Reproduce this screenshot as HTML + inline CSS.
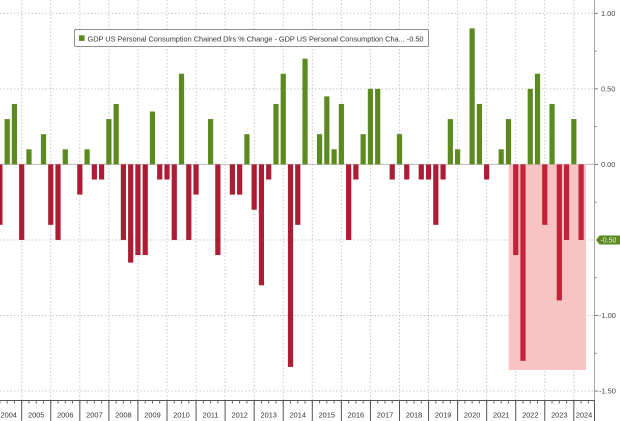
<!DOCTYPE html>
<html><head><meta charset="utf-8"><style>
html,body{margin:0;padding:0;background:#fff;}
svg{display:block;font-family:"Liberation Sans",sans-serif;}
</style></head><body>
<svg width="620" height="421" viewBox="0 0 620 421" xmlns="http://www.w3.org/2000/svg">
<rect x="0" y="0" width="620" height="421" fill="#fff"/>
<!-- vertical gridlines -->
<g stroke="#c8c8c8" stroke-width="1" stroke-dasharray="1.5,2">
<line x1="21.7" y1="0" x2="21.7" y2="400"/><line x1="50.76" y1="0" x2="50.76" y2="400"/><line x1="79.82" y1="0" x2="79.82" y2="400"/><line x1="108.88" y1="0" x2="108.88" y2="400"/><line x1="137.94" y1="0" x2="137.94" y2="400"/><line x1="167" y1="0" x2="167" y2="400"/><line x1="196.06" y1="0" x2="196.06" y2="400"/><line x1="225.12" y1="0" x2="225.12" y2="400"/><line x1="254.18" y1="0" x2="254.18" y2="400"/><line x1="283.24" y1="0" x2="283.24" y2="400"/><line x1="312.3" y1="0" x2="312.3" y2="400"/><line x1="341.36" y1="0" x2="341.36" y2="400"/><line x1="370.42" y1="0" x2="370.42" y2="400"/><line x1="399.48" y1="0" x2="399.48" y2="400"/><line x1="428.54" y1="0" x2="428.54" y2="400"/><line x1="457.6" y1="0" x2="457.6" y2="400"/><line x1="486.66" y1="0" x2="486.66" y2="400"/><line x1="515.72" y1="0" x2="515.72" y2="400"/><line x1="544.78" y1="0" x2="544.78" y2="400"/><line x1="573.84" y1="0" x2="573.84" y2="400"/>
</g>
<!-- horizontal gridlines -->
<g stroke="#c8c8c8" stroke-width="1" stroke-dasharray="1.5,2">
<line x1="0" y1="13.3" x2="594.5" y2="13.3"/><line x1="0" y1="88.85" x2="594.5" y2="88.85"/><line x1="0" y1="239.95" x2="594.5" y2="239.95"/><line x1="0" y1="315.5" x2="594.5" y2="315.5"/><line x1="0" y1="391.05" x2="594.5" y2="391.05"/>
</g>
<line x1="0" y1="164.4" x2="594.5" y2="164.4" stroke="#bdbdbd" stroke-width="1"/>
<!-- pink highlight -->
<rect x="508.7" y="164.4" width="77.3" height="205.6" fill="#f7c3c3"/>
<!-- green bars -->
<g fill="#5b8a1f">
<rect x="4.57" y="119.07" width="5.2" height="45.33"/>
<rect x="11.84" y="103.96" width="5.2" height="60.44"/>
<rect x="26.37" y="149.29" width="5.2" height="15.11"/>
<rect x="40.90" y="134.18" width="5.2" height="30.22"/>
<rect x="62.69" y="149.29" width="5.2" height="15.11"/>
<rect x="84.49" y="149.29" width="5.2" height="15.11"/>
<rect x="106.28" y="119.07" width="5.2" height="45.33"/>
<rect x="113.54" y="103.96" width="5.2" height="60.44"/>
<rect x="149.87" y="111.51" width="5.2" height="52.89"/>
<rect x="178.93" y="73.74" width="5.2" height="90.66"/>
<rect x="207.99" y="119.07" width="5.2" height="45.33"/>
<rect x="244.32" y="134.18" width="5.2" height="30.22"/>
<rect x="273.38" y="103.96" width="5.2" height="60.44"/>
<rect x="280.64" y="73.74" width="5.2" height="90.66"/>
<rect x="302.44" y="58.63" width="5.2" height="105.77"/>
<rect x="316.97" y="134.18" width="5.2" height="30.22"/>
<rect x="324.23" y="96.4" width="5.2" height="68.0"/>
<rect x="331.50" y="149.29" width="5.2" height="15.11"/>
<rect x="338.76" y="103.96" width="5.2" height="60.44"/>
<rect x="360.56" y="134.18" width="5.2" height="30.22"/>
<rect x="367.82" y="88.85" width="5.2" height="75.55"/>
<rect x="375.09" y="88.85" width="5.2" height="75.55"/>
<rect x="396.88" y="134.18" width="5.2" height="30.22"/>
<rect x="447.74" y="119.07" width="5.2" height="45.33"/>
<rect x="455.00" y="149.29" width="5.2" height="15.11"/>
<rect x="469.53" y="28.41" width="5.2" height="135.99"/>
<rect x="476.80" y="103.96" width="5.2" height="60.44"/>
<rect x="498.59" y="149.29" width="5.2" height="15.11"/>
<rect x="505.86" y="119.07" width="5.2" height="45.33"/>
<rect x="527.65" y="88.85" width="5.2" height="75.55"/>
<rect x="534.92" y="73.74" width="5.2" height="90.66"/>
<rect x="549.45" y="103.96" width="5.2" height="60.44"/>
<rect x="571.24" y="119.07" width="5.2" height="45.33"/>
</g>
<!-- red bars -->
<g fill="#ac1c34">
<rect x="-2.70" y="164.4" width="5.2" height="60.44"/>
<rect x="19.10" y="164.4" width="5.2" height="75.55"/>
<rect x="48.16" y="164.4" width="5.2" height="60.44"/>
<rect x="55.43" y="164.4" width="5.2" height="75.55"/>
<rect x="77.22" y="164.4" width="5.2" height="30.22"/>
<rect x="91.75" y="164.4" width="5.2" height="15.11"/>
<rect x="99.02" y="164.4" width="5.2" height="15.11"/>
<rect x="120.81" y="164.4" width="5.2" height="75.55"/>
<rect x="128.08" y="164.4" width="5.2" height="98.2"/>
<rect x="135.34" y="164.4" width="5.2" height="90.66"/>
<rect x="142.61" y="164.4" width="5.2" height="90.66"/>
<rect x="157.14" y="164.4" width="5.2" height="15.11"/>
<rect x="164.40" y="164.4" width="5.2" height="15.11"/>
<rect x="171.67" y="164.4" width="5.2" height="75.55"/>
<rect x="186.20" y="164.4" width="5.2" height="75.55"/>
<rect x="193.46" y="164.4" width="5.2" height="30.22"/>
<rect x="215.26" y="164.4" width="5.2" height="90.66"/>
<rect x="229.79" y="164.4" width="5.2" height="30.22"/>
<rect x="237.05" y="164.4" width="5.2" height="30.22"/>
<rect x="251.58" y="164.4" width="5.2" height="45.33"/>
<rect x="258.85" y="164.4" width="5.2" height="120.88"/>
<rect x="266.11" y="164.4" width="5.2" height="15.11"/>
<rect x="287.91" y="164.4" width="5.2" height="202.5"/>
<rect x="295.17" y="164.4" width="5.2" height="60.44"/>
<rect x="346.03" y="164.4" width="5.2" height="75.55"/>
<rect x="353.29" y="164.4" width="5.2" height="15.11"/>
<rect x="389.62" y="164.4" width="5.2" height="15.11"/>
<rect x="404.15" y="164.4" width="5.2" height="15.11"/>
<rect x="418.68" y="164.4" width="5.2" height="15.11"/>
<rect x="425.94" y="164.4" width="5.2" height="15.11"/>
<rect x="433.21" y="164.4" width="5.2" height="60.44"/>
<rect x="440.47" y="164.4" width="5.2" height="15.11"/>
<rect x="484.06" y="164.4" width="5.2" height="15.11"/>
</g>
<g fill="#c4223a">
<rect x="513.12" y="164.4" width="5.2" height="90.66"/>
<rect x="520.39" y="164.4" width="5.2" height="196.43"/>
<rect x="542.18" y="164.4" width="5.2" height="60.44"/>
<rect x="556.71" y="164.4" width="5.2" height="135.99"/>
<rect x="563.98" y="164.4" width="5.2" height="75.55"/>
<rect x="578.51" y="164.4" width="5.2" height="75.55"/>
</g>
<!-- legend -->
<rect x="74.5" y="29.5" width="354" height="17" rx="1.5" fill="#fff" stroke="#8f8f8f" stroke-width="1"/>
<rect x="79" y="35.3" width="5.6" height="5.6" fill="#5b8a1f"/>
<text x="87.5" y="41.3" font-size="7.4" fill="#333" textLength="336" lengthAdjust="spacingAndGlyphs">GDP US Personal Consumption Chained Dlrs % Change - GDP US Personal Consumption Cha...  -0.50</text>
<!-- right axis -->
<line x1="594.5" y1="0" x2="594.5" y2="401" stroke="#a9a99c" stroke-width="1"/>
<g stroke="#777" stroke-width="1">
<line x1="594.5" y1="13.3" x2="598" y2="13.3"/><line x1="594.5" y1="88.85" x2="598" y2="88.85"/><line x1="594.5" y1="164.4" x2="598" y2="164.4"/><line x1="594.5" y1="315.5" x2="598" y2="315.5"/><line x1="594.5" y1="391.05" x2="598" y2="391.05"/>
<line x1="594.5" y1="51.1" x2="596.5" y2="51.1"/><line x1="594.5" y1="126.6" x2="596.5" y2="126.6"/><line x1="594.5" y1="202.2" x2="596.5" y2="202.2"/><line x1="594.5" y1="277.7" x2="596.5" y2="277.7"/><line x1="594.5" y1="353.3" x2="596.5" y2="353.3"/>
</g>
<g font-size="7.4" fill="#444">
<text x="601" y="16">1.00</text>
<text x="601" y="91.5">0.50</text>
<text x="601" y="167">0.00</text>
<text x="599" y="318.2">-1.00</text>
<text x="599" y="393.7">-1.50</text>
</g>
<polygon points="596,240 599.5,235.5 620,235.5 620,244.5 599.5,244.5" fill="#5b8a1f"/>
<text x="600.5" y="242.6" font-size="7" fill="#eef5e0">-0.50</text>
<!-- bottom axis -->
<line x1="0" y1="400.5" x2="594.5" y2="400.5" stroke="#555" stroke-width="1"/>
<line x1="0" y1="402" x2="594.5" y2="402" stroke="#666" stroke-width="3" stroke-dasharray="1,6.265" stroke-dashoffset="0.595"/>
<g stroke="#555" stroke-width="1">
<line x1="21.7" y1="400.5" x2="21.7" y2="421"/><line x1="50.76" y1="400.5" x2="50.76" y2="421"/><line x1="79.82" y1="400.5" x2="79.82" y2="421"/><line x1="108.88" y1="400.5" x2="108.88" y2="421"/><line x1="137.94" y1="400.5" x2="137.94" y2="421"/><line x1="167" y1="400.5" x2="167" y2="421"/><line x1="196.06" y1="400.5" x2="196.06" y2="421"/><line x1="225.12" y1="400.5" x2="225.12" y2="421"/><line x1="254.18" y1="400.5" x2="254.18" y2="421"/><line x1="283.24" y1="400.5" x2="283.24" y2="421"/><line x1="312.3" y1="400.5" x2="312.3" y2="421"/><line x1="341.36" y1="400.5" x2="341.36" y2="421"/><line x1="370.42" y1="400.5" x2="370.42" y2="421"/><line x1="399.48" y1="400.5" x2="399.48" y2="421"/><line x1="428.54" y1="400.5" x2="428.54" y2="421"/><line x1="457.6" y1="400.5" x2="457.6" y2="421"/><line x1="486.66" y1="400.5" x2="486.66" y2="421"/><line x1="515.72" y1="400.5" x2="515.72" y2="421"/><line x1="544.78" y1="400.5" x2="544.78" y2="421"/><line x1="573.84" y1="400.5" x2="573.84" y2="421"/>
<line x1="594.5" y1="400.5" x2="594.5" y2="421"/>
</g>
<g font-size="7.4" fill="#333" text-anchor="middle">
<text x="8.7" y="417.5">2004</text>
<text x="36.2" y="417.5">2005</text>
<text x="65.3" y="417.5">2006</text>
<text x="94.4" y="417.5">2007</text>
<text x="123.4" y="417.5">2008</text>
<text x="152.5" y="417.5">2009</text>
<text x="181.5" y="417.5">2010</text>
<text x="210.6" y="417.5">2011</text>
<text x="239.7" y="417.5">2012</text>
<text x="268.7" y="417.5">2013</text>
<text x="297.8" y="417.5">2014</text>
<text x="326.8" y="417.5">2015</text>
<text x="355.9" y="417.5">2016</text>
<text x="385" y="417.5">2017</text>
<text x="414" y="417.5">2018</text>
<text x="443.1" y="417.5">2019</text>
<text x="472.1" y="417.5">2020</text>
<text x="501.2" y="417.5">2021</text>
<text x="530.3" y="417.5">2022</text>
<text x="559.3" y="417.5">2023</text>
<text x="584" y="417.5">2024</text>
</g>
</svg>
</body></html>
